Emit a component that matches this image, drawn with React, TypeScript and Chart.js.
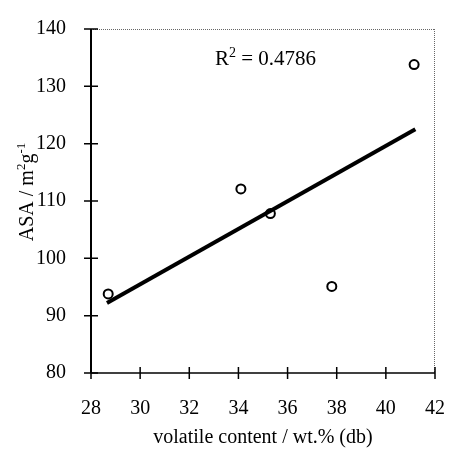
import React, { useEffect, useRef } from "react";
import { Chart, registerables } from "chart.js";

Chart.register(...registerables);

const volatileContent = [28.7, 34.1, 35.3, 37.8, 41.15];
const asaValues = [93.8, 112.1, 107.8, 95.1, 133.8];
const trendX = [28.65, 41.2];
const trendY = [92.2, 122.5];
const xTicks = [28, 30, 32, 34, 36, 38, 40, 42];
const yTicks = [80, 90, 100, 110, 120, 130, 140];
const r2Text = "0.4786";

const FONT = "'Liberation Serif', 'Times New Roman', serif";

type Run = { text: string; sup?: boolean };

function runsWidth(ctx: CanvasRenderingContext2D, runs: Run[], size: number, supSize: number) {
  let w = 0;
  for (const r of runs) {
    ctx.font = `${r.sup ? supSize : size}px ${FONT}`;
    w += ctx.measureText(r.text).width;
  }
  return w;
}

function drawRuns(ctx: CanvasRenderingContext2D, runs: Run[], x: number, y: number, size: number, supSize: number, rise: number) {
  let cx = x;
  ctx.textBaseline = "alphabetic";
  ctx.textAlign = "left";
  for (const r of runs) {
    ctx.font = `${r.sup ? supSize : size}px ${FONT}`;
    ctx.fillText(r.text, cx, r.sup ? y - rise : y);
    cx += ctx.measureText(r.text).width;
  }
}

const decorPlugin = {
  id: "decor",
  afterDraw(chart: any) {
    const ctx: CanvasRenderingContext2D = chart.ctx;
    const { left, right, top, bottom } = chart.chartArea;
    const xs = chart.scales.x;
    const ys = chart.scales.y;
    ctx.save();
    // frame top & right (light)
    ctx.strokeStyle = "#666";
    ctx.lineWidth = 1;
    ctx.setLineDash([1, 1]);
    ctx.beginPath();
    ctx.moveTo(left, top + 0.5);
    ctx.lineTo(right, top + 0.5);
    ctx.moveTo(right - 0.5, top);
    ctx.lineTo(right - 0.5, bottom);
    ctx.stroke();
    ctx.setLineDash([]);
    // axes
    ctx.strokeStyle = "#000";
    ctx.lineWidth = 2;
    ctx.beginPath();
    ctx.moveTo(left, top);
    ctx.lineTo(left, bottom);
    ctx.stroke();
    ctx.lineWidth = 1.5;
    ctx.beginPath();
    ctx.moveTo(left, bottom);
    ctx.lineTo(right, bottom);
    ctx.stroke();
    // crossing ticks
    ctx.lineWidth = 1.5;
    ctx.beginPath();
    for (const v of yTicks) {
      const py = ys.getPixelForValue(v);
      ctx.moveTo(left - 7, py);
      ctx.lineTo(left + 7, py);
    }
    for (const v of xTicks) {
      const px = xs.getPixelForValue(v);
      ctx.moveTo(px, bottom - 6);
      ctx.lineTo(px, bottom + 6);
    }
    ctx.stroke();
    ctx.fillStyle = "#000";
    // R^2 annotation
    drawRuns(ctx, [{ text: "R" }, { text: "2", sup: true }, { text: " = " + r2Text }], 215, 65, 21, 14, 8);
    // x title
    const xRuns: Run[] = [{ text: "volatile content / wt.% (db)" }];
    const xw = runsWidth(ctx, xRuns, 20, 13);
    drawRuns(ctx, xRuns, (left + right) / 2 - xw / 2, 443, 20, 13, 8);
    // y title
    const yRuns: Run[] = [{ text: "ASA / m" }, { text: "2", sup: true }, { text: "g" }, { text: "-1", sup: true }];
    const yw = runsWidth(ctx, yRuns, 20, 13);
    ctx.translate(33, 192);
    ctx.rotate(-Math.PI / 2);
    drawRuns(ctx, yRuns, -yw / 2, 0, 20, 13, 8);
    ctx.restore();
  },
};

export default function App() {
  const ref = useRef<HTMLCanvasElement | null>(null);
  useEffect(() => {
    document.body.style.margin = "0";
    const canvas = ref.current!;
    const chart = new Chart(canvas, {
      type: "scatter",
      data: {
        datasets: [
          {
            label: "trend",
            data: trendX.map((x, i) => ({ x, y: trendY[i] })),
            showLine: true,
            borderColor: "#000",
            borderWidth: 4,
            pointRadius: 0,
            borderCapStyle: "butt",
          } as any,
          {
            label: "ASA",
            data: volatileContent.map((x, i) => ({ x, y: asaValues[i] })),
            pointStyle: "circle",
            pointRadius: 4.5,
            pointBorderWidth: 2,
            pointBackgroundColor: "#fff",
            pointBorderColor: "#000",
          },
        ],
      },
      options: {
        animation: false,
        responsive: false,
        maintainAspectRatio: false,
        layout: { padding: { top: 20, right: 15, left: 0, bottom: 0 } },
        plugins: { legend: { display: false }, tooltip: { enabled: false } },
        scales: {
          x: {
            type: "linear",
            min: 28,
            max: 42,
            afterBuildTicks: (s: any) => {
              s.ticks = xTicks.map((v) => ({ value: v }));
            },
            grid: { display: false },
            border: { display: false },
            ticks: { color: "#000", font: { family: FONT, size: 20 }, padding: 16 },
            afterFit: (s: any) => {
              s.height = 76;
            },
          },
          y: {
            type: "linear",
            min: 80,
            max: 140,
            afterBuildTicks: (s: any) => {
              s.ticks = yTicks.map((v) => ({ value: v }));
            },
            grid: { display: false },
            border: { display: false },
            ticks: { color: "#000", font: { family: FONT, size: 20 }, padding: 17 },
            afterFit: (s: any) => {
              s.width = 91;
            },
          },
        },
      },
      plugins: [decorPlugin],
    });
    return () => chart.destroy();
  }, []);
  return (
    <div style={{ width: 461, height: 449, background: "#fff" }}>
      <canvas ref={ref} width={461} height={449} style={{ display: "block" }} />
    </div>
  );
}
